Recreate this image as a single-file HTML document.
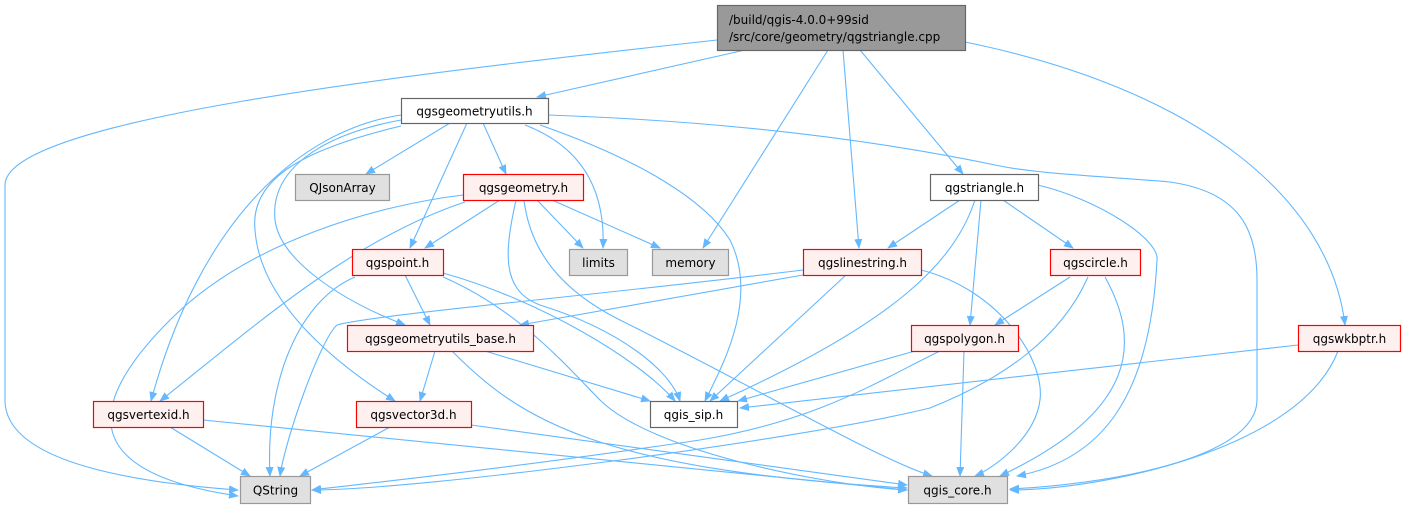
<!DOCTYPE html>
<html><head><meta charset="utf-8"><style>
html,body{margin:0;padding:0;background:#fff;}
svg{display:block;}
text{font-family:"DejaVu Sans","Liberation Sans",sans-serif;font-size:12px;fill:#000;}
.e{fill:none;stroke:#63b8ff;stroke-width:1.1;marker-end:url(#a);}
.r{fill:#fff0f0;stroke:#ff0000;stroke-width:1.2;}
.g{fill:#e0e0e0;stroke:#999;stroke-width:1.2;}
.w{fill:#fff;stroke:#666;stroke-width:1.2;}
</style></head><body>
<svg width="1405" height="509" viewBox="0 0 1405 509" xmlns="http://www.w3.org/2000/svg">
<defs><marker id="a" viewBox="0 0 10 10" refX="9" refY="5" markerWidth="10" markerHeight="10" markerUnits="userSpaceOnUse" orient="auto"><path d="M0,1 L10,5 L0,9 z" fill="#63b8ff"/></marker></defs>
<!-- root edges -->
<path class="e" d="M717,40 C400,75 5,120 5,185 L5,400 C5,470 170,485 238,490"/>
<path class="e" d="M745,50 L537,97"/>
<path class="e" d="M828,50 L703,248"/>
<path class="e" d="M843,50 L859,248"/>
<path class="e" d="M860,50 L963,174"/>
<path class="e" d="M965,42 C1200,90 1330,200 1345,325"/>
<!-- geometryutils -->
<path class="e" d="M450,123 L366,174"/>
<path class="e" d="M483,123 L506,174"/>
<path class="e" d="M467,123 L410,248"/>
<path class="e" d="M525,125 C590,150 605,200 603,248"/>
<path class="e" d="M540,125 C640,160 705,200 730,240 C760,300 720,370 705,401"/>
<path class="e" d="M548,115 C750,122 900,145 1000,166 C1040,174 1100,176 1170,182 C1240,192 1257,230 1257,280 L1257,400 C1257,460 1100,485 1010,489"/>
<path class="e" d="M401,115 C300,130 200,220 151,401"/>
<path class="e" d="M401,120 C320,135 270,170 275,220 C280,260 340,300 405,325"/>
<path class="e" d="M401,126 C300,150 250,180 255,230 C260,300 330,360 395,401"/>
<!-- geometry -->
<path class="e" d="M463,195 C380,205 250,240 170,320 C100,390 60,470 238,496"/>
<path class="e" d="M465,202 C350,240 250,330 160,401"/>
<path class="e" d="M500,200 L425,248"/>
<path class="e" d="M537,200 L583,248"/>
<path class="e" d="M552,200 L660,248"/>
<path class="e" d="M516,200 C505,250 500,290 540,305 C620,330 670,370 680,401"/>
<path class="e" d="M524,200 C530,250 560,290 620,320 C760,390 880,460 932,476"/>
<!-- point -->
<path class="e" d="M405,275 L430,325"/>
<path class="e" d="M355,277 C300,300 265,380 270,476"/>
<path class="e" d="M443,273 C540,300 640,360 675,401"/>
<path class="e" d="M443,277 C520,310 570,370 600,400 C650,450 820,485 907,490"/>
<!-- linestring -->
<path class="e" d="M803,270 C600,295 370,315 337,325 C320,340 285,440 280,476"/>
<path class="e" d="M803,275 L520,325"/>
<path class="e" d="M846,275 L710,401"/>
<path class="e" d="M921,270 C1000,290 1045,360 1040,400 C1035,440 990,470 975,476"/>
<!-- triangle -->
<path class="e" d="M960,200 L888,248"/>
<path class="e" d="M975,200 C955,260 900,320 720,401"/>
<path class="e" d="M981,200 L970,325"/>
<path class="e" d="M1003,200 L1073,248"/>
<path class="e" d="M1038,185 C1100,200 1160,240 1157,260 C1150,400 1100,460 1017,476"/>
<!-- circle -->
<path class="e" d="M1070,277 L995,325"/>
<path class="e" d="M1088,277 C1060,340 1000,380 930,408 C800,440 420,490 312,490"/>
<path class="e" d="M1105,277 C1140,340 1140,410 1000,476"/>
<!-- polygon -->
<path class="e" d="M915,351 L738,401"/>
<path class="e" d="M940,351 C880,380 820,420 700,440 C500,470 350,485 312,490"/>
<path class="e" d="M964,351 L960,476"/>
<!-- wkbptr -->
<path class="e" d="M1298,345 L740,408"/>
<path class="e" d="M1338,351 C1300,450 1100,490 1010,490"/>
<!-- base -->
<path class="e" d="M435,351 L420,401"/>
<path class="e" d="M485,351 L650,401"/>
<path class="e" d="M452,351 C520,420 600,470 907,488"/>
<!-- vertexid / vector3d -->
<path class="e" d="M170,427 L250,476"/>
<path class="e" d="M203,420 L907,490"/>
<path class="e" d="M390,427 L300,476"/>
<path class="e" d="M471,425 L907,485"/>
<!-- nodes -->
<rect x="717.5" y="5.5" width="248" height="45" fill="#999" stroke="#666" stroke-width="1.2"/>
<text x="729" y="24">/build/qgis-4.0.0+99sid</text>
<text x="729" y="41">/src/core/geometry/qgstriangle.cpp</text>
<rect class="w" x="401.5" y="98.5" width="147" height="25"/><text x="474.5" y="115.5" text-anchor="middle">qgsgeometryutils.h</text>
<rect class="g" x="295.5" y="174.5" width="94" height="26"/><text x="342.5" y="192" text-anchor="middle">QJsonArray</text>
<rect class="r" x="463.5" y="174.5" width="120" height="26"/><text x="523.5" y="192" text-anchor="middle">qgsgeometry.h</text>
<rect class="w" x="930.5" y="174.5" width="108" height="26"/><text x="984.5" y="192" text-anchor="middle">qgstriangle.h</text>
<rect class="g" x="569.5" y="249.5" width="58" height="26"/><text x="598.5" y="267" text-anchor="middle">limits</text>
<rect class="g" x="652.5" y="249.5" width="76" height="26"/><text x="690.5" y="267" text-anchor="middle">memory</text>
<rect class="r" x="352.5" y="249.5" width="91" height="26"/><text x="397.5" y="267" text-anchor="middle">qgspoint.h</text>
<rect class="r" x="803.5" y="249.5" width="118" height="26"/><text x="862.5" y="267" text-anchor="middle">qgslinestring.h</text>
<rect class="r" x="1050.5" y="249.5" width="90" height="26"/><text x="1095.5" y="267" text-anchor="middle">qgscircle.h</text>
<rect class="r" x="347.5" y="325.5" width="186" height="26"/><text x="440.5" y="343" text-anchor="middle">qgsgeometryutils_base.h</text>
<rect class="r" x="911.5" y="325.5" width="107" height="26"/><text x="964.5" y="343" text-anchor="middle">qgspolygon.h</text>
<rect class="r" x="1298.5" y="325.5" width="102" height="26"/><text x="1349.5" y="343" text-anchor="middle">qgswkbptr.h</text>
<rect class="r" x="93.5" y="401.5" width="110" height="26"/><text x="148.5" y="419" text-anchor="middle">qgsvertexid.h</text>
<rect class="r" x="356.5" y="401.5" width="115" height="26"/><text x="413.5" y="419" text-anchor="middle">qgsvector3d.h</text>
<rect class="w" x="650.5" y="401.5" width="87" height="26"/><text x="693.5" y="419" text-anchor="middle">qgis_sip.h</text>
<rect class="g" x="240.5" y="476.5" width="70" height="27"/><text x="275.5" y="494.5" text-anchor="middle">QString</text>
<rect class="g" x="908.5" y="476.5" width="99" height="27"/><text x="957.5" y="494.5" text-anchor="middle">qgis_core.h</text>
</svg>
</body></html>
